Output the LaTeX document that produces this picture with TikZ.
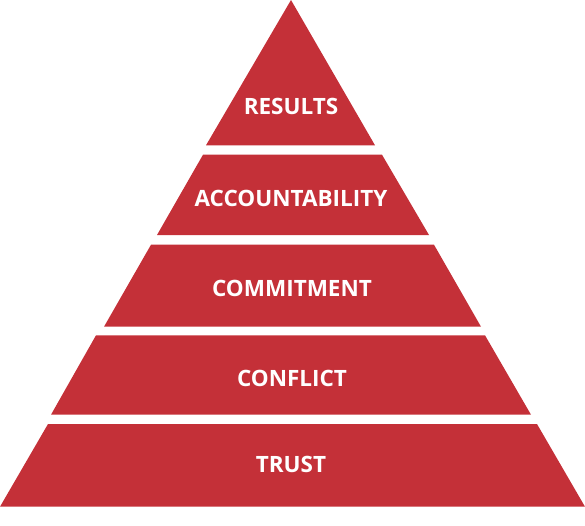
\documentclass[tikz,border=0pt]{standalone}
\usepackage{fontspec}
\setmainfont{Open Sans}
\definecolor{pyrred}{RGB}{196,48,56}
\tikzset{
  layer/.style={fill=pyrred},
  tag/.style={text=white, font=\bfseries\fontsize{12.8}{14}\selectfont, anchor=base}
}
\begin{document}
\begin{tikzpicture}[x=0.02cm, y=-0.02cm]
\useasboundingbox (0,0) rectangle (585,525);

\fill[layer] (291,0) -- (375,145.3) -- (206,145.3) -- cycle;
\node[tag] (results) at (291,114) {RESULTS};

\fill[layer] (203,154.7) -- (382,154.7) -- (429,235) -- (157,235) -- cycle;
\node[tag] (accountability) at (291,206) {ACCOUNTABILITY};

\fill[layer] (151,244.7) -- (434,244.7) -- (481,326.7) -- (104,326.7) -- cycle;
\node[tag] (commitment) at (292,296) {COMMITMENT};

\fill[layer] (96,335.3) -- (485,335.3) -- (531,414.7) -- (51,414.7) -- cycle;
\node[tag] (conflict) at (292,386) {CONFLICT};

\fill[layer] (48,424) -- (537,424) -- (585,506.7) -- (0,506.7) -- cycle;
\node[tag] (trust) at (291,472) {TRUST};

\end{tikzpicture}
\end{document}
